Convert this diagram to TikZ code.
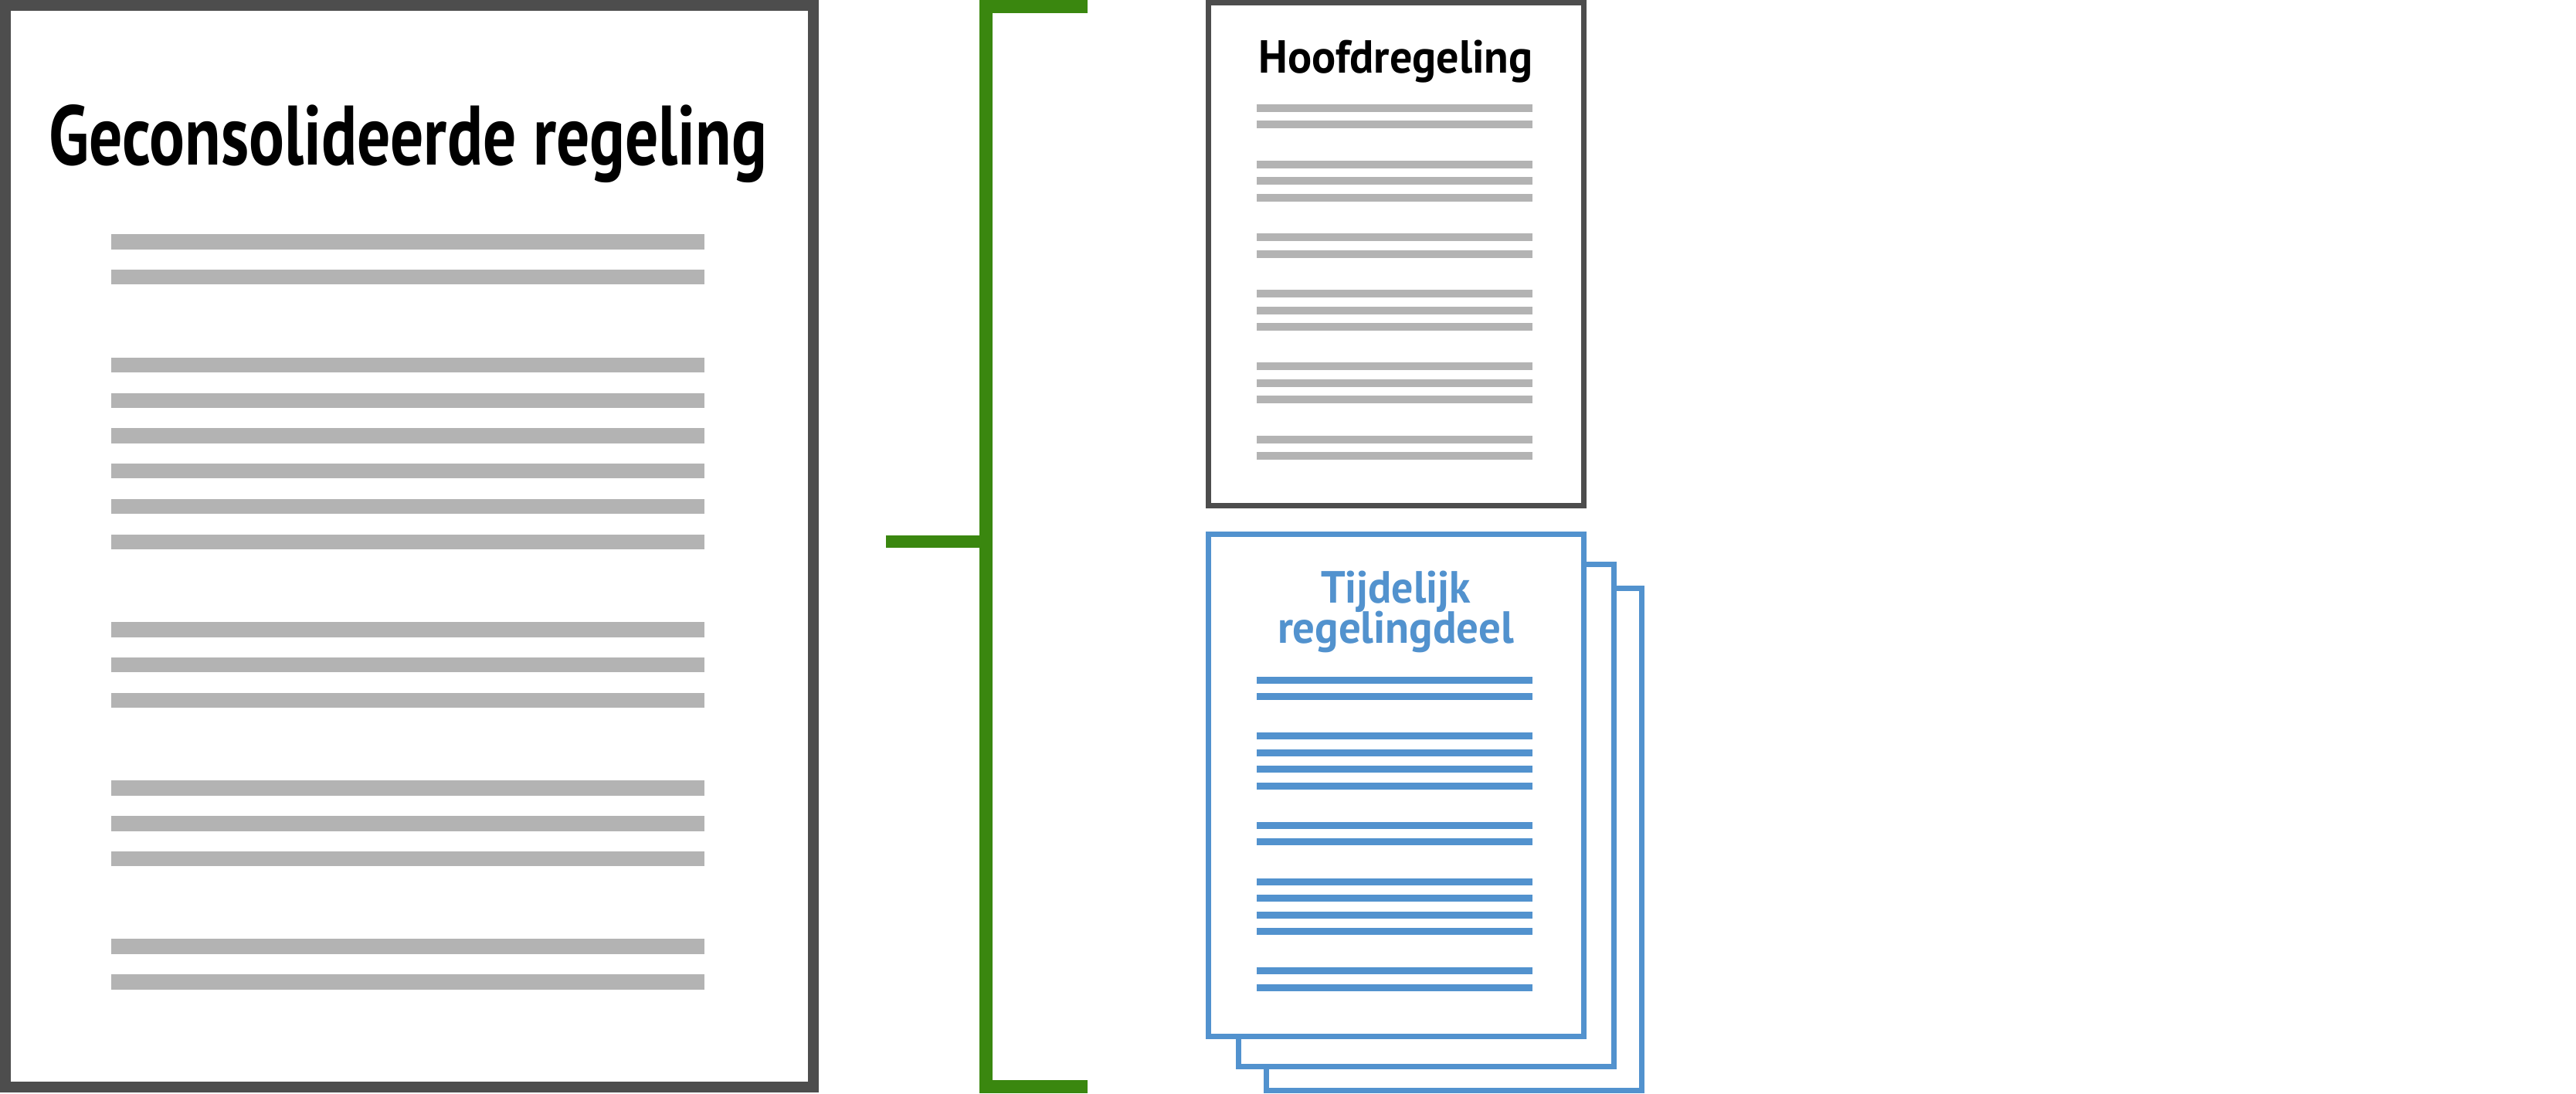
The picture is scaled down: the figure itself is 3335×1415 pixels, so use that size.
\documentclass[tikz,border=0pt]{standalone}
\usepackage{fontspec}
\setmainfont{PT Sans}
\usepackage{graphicx}
\definecolor{docgrey}{RGB}{77,77,77}
\definecolor{linegrey}{RGB}{179,179,179}
\definecolor{docblue}{RGB}{82,146,206}
\definecolor{bracegreen}{RGB}{58,135,15}
\begin{document}
\begin{tikzpicture}[x=0.1mm, y=-0.1mm, title/.style={anchor=base, inner sep=0pt}]
\useasboundingbox (0,0) rectangle (3335,1415);
% geconsolideerde regeling
\draw [docgrey, line width=1.4mm] (7,7) rectangle (1053,1407);
\node (geconsolideerd) [title] at (528,213) {\resizebox{93mm}{7.8mm}{\bfseries Geconsolideerde regeling}};
\foreach \y in {313,358.7,472.3,518.3,564,609.7,655.7,701.3,815,860.7,906.5,1019.8,1065.8,1111.5,1225.2,1270.8}
  \draw [linegrey, line width=1.95mm] (144,\y) -- (912,\y);
% bracket
\coordinate (bracetop) at (1408,8.3);
\coordinate (bracebottom) at (1408,1406.4);
\coordinate (bracemid) at (1276.7,701);
\coordinate (bracetip) at (1147,701);
\draw [bracegreen, line width=1.67mm] (bracetop) -| (bracemid) |- (bracebottom);
\draw [bracegreen, line width=1.67mm] (bracetip) -- (bracemid);
% hoofdregeling
\draw [docgrey, line width=0.7mm] (1564.5,3.5) rectangle (2050,654);
\node (hoofd) [title] at (1807,94.3) {\resizebox{35.5mm}{4.26mm}{\bfseries Hoofdregeling}};
\foreach \y in {140,161.4,212.9,234.3,255.7,307.2,328.6,380.1,401.5,422.9,474.4,495.8,517.2,568.7,590.1}
  \draw [linegrey, line width=1mm] (1627,\y) -- (1984,\y);
% tijdelijk regelingdeel, stapel
\foreach \dx/\dy in {75/70, 39/39, 0/0}
  \draw [docblue, fill=white, line width=0.7mm] (1564.5+\dx,691+\dy) rectangle (2050+\dx,1341.7+\dy);
\node (tijdelijk) [title, docblue] at (1807,780.7) {\resizebox{19.4mm}{4.15mm}{\bfseries Tijdelijk}};
\node (regelingdeel) [title, docblue] at (1807,832.7) {\resizebox{30.6mm}{4.15mm}{\bfseries regelingdeel}};
\foreach \y in {880.2,901.5,952.8,974.2,995.8,1017.2,1068.5,1089.8,1141.2,1162.5,1184.2,1205.5,1256.8,1278.2}
  \draw [docblue, line width=0.9mm] (1627,\y) -- (1984,\y);
\end{tikzpicture}
\end{document}
